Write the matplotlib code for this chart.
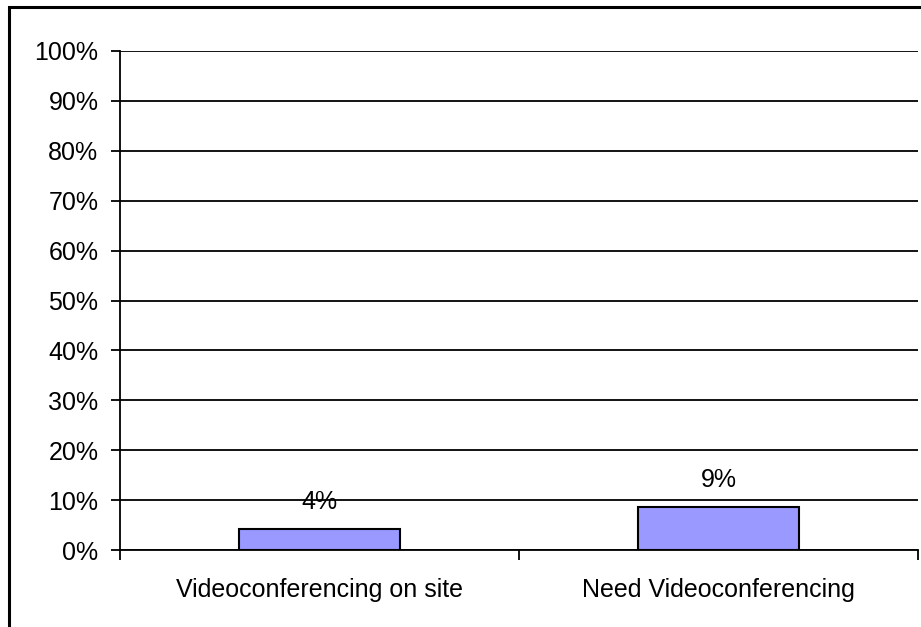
import matplotlib
matplotlib.use("Agg")
import matplotlib.pyplot as plt
from matplotlib.patches import Rectangle
from matplotlib.ticker import FixedLocator

plt.rcParams['font.family'] = ['Liberation Sans', 'DejaVu Sans']

categories = ["Videoconferencing on site", "Need Videoconferencing"]
values = [4.2, 8.6]
value_labels = ["4%", "9%"]
y_ticks = list(range(0, 101, 10))
y_tick_labels = [f"{t}%" for t in y_ticks]

W, H = 921, 627
fig = plt.figure(figsize=(W / 100, H / 100), dpi=100)

# outer chart frame (runs off the right and bottom edges)
fig.patches.append(Rectangle((8.5 / W, -0.1), 1.2, 1.1 - 7.5 / H,
                             transform=fig.transFigure, fill=False,
                             edgecolor='black', linewidth=2.2, zorder=0))

ax = fig.add_axes([120 / W, 1 - 550 / H, (918 - 120) / W, (550 - 51) / H])
ax.set_xlim(-0.5, 1.5)
ax.set_ylim(0, 100)

ax.bar(range(len(categories)), values, width=0.405, color='#9999FF',
       edgecolor='black', linewidth=1.5, zorder=3)

for i, (v, lab) in enumerate(zip(values, value_labels)):
    ax.annotate(lab, (i, v), xytext=(0, 19.5), textcoords='offset points',
                ha='center', va='center', fontsize=18, zorder=4)

ax.set_yticks(y_ticks)
ax.set_yticklabels(y_tick_labels, fontsize=18)
ax.yaxis.grid(True, color='black', linewidth=1.3)
ax.set_axisbelow(True)

ax.set_xticks(range(len(categories)))
ax.set_xticklabels(categories, fontsize=18)
ax.xaxis.set_minor_locator(FixedLocator([-0.5, 0.5, 1.5]))
ax.tick_params(axis='x', which='major', length=0, pad=20)
ax.tick_params(axis='x', which='minor', length=7, width=1.3, direction='out')
ax.tick_params(axis='y', which='major', length=6.5, width=1.3, pad=9)

for side in ['top', 'right']:
    ax.spines[side].set_visible(False)
ax.spines['left'].set_linewidth(1.3)
ax.spines['bottom'].set_linewidth(1.3)

fig.savefig("out.png", dpi=100)
